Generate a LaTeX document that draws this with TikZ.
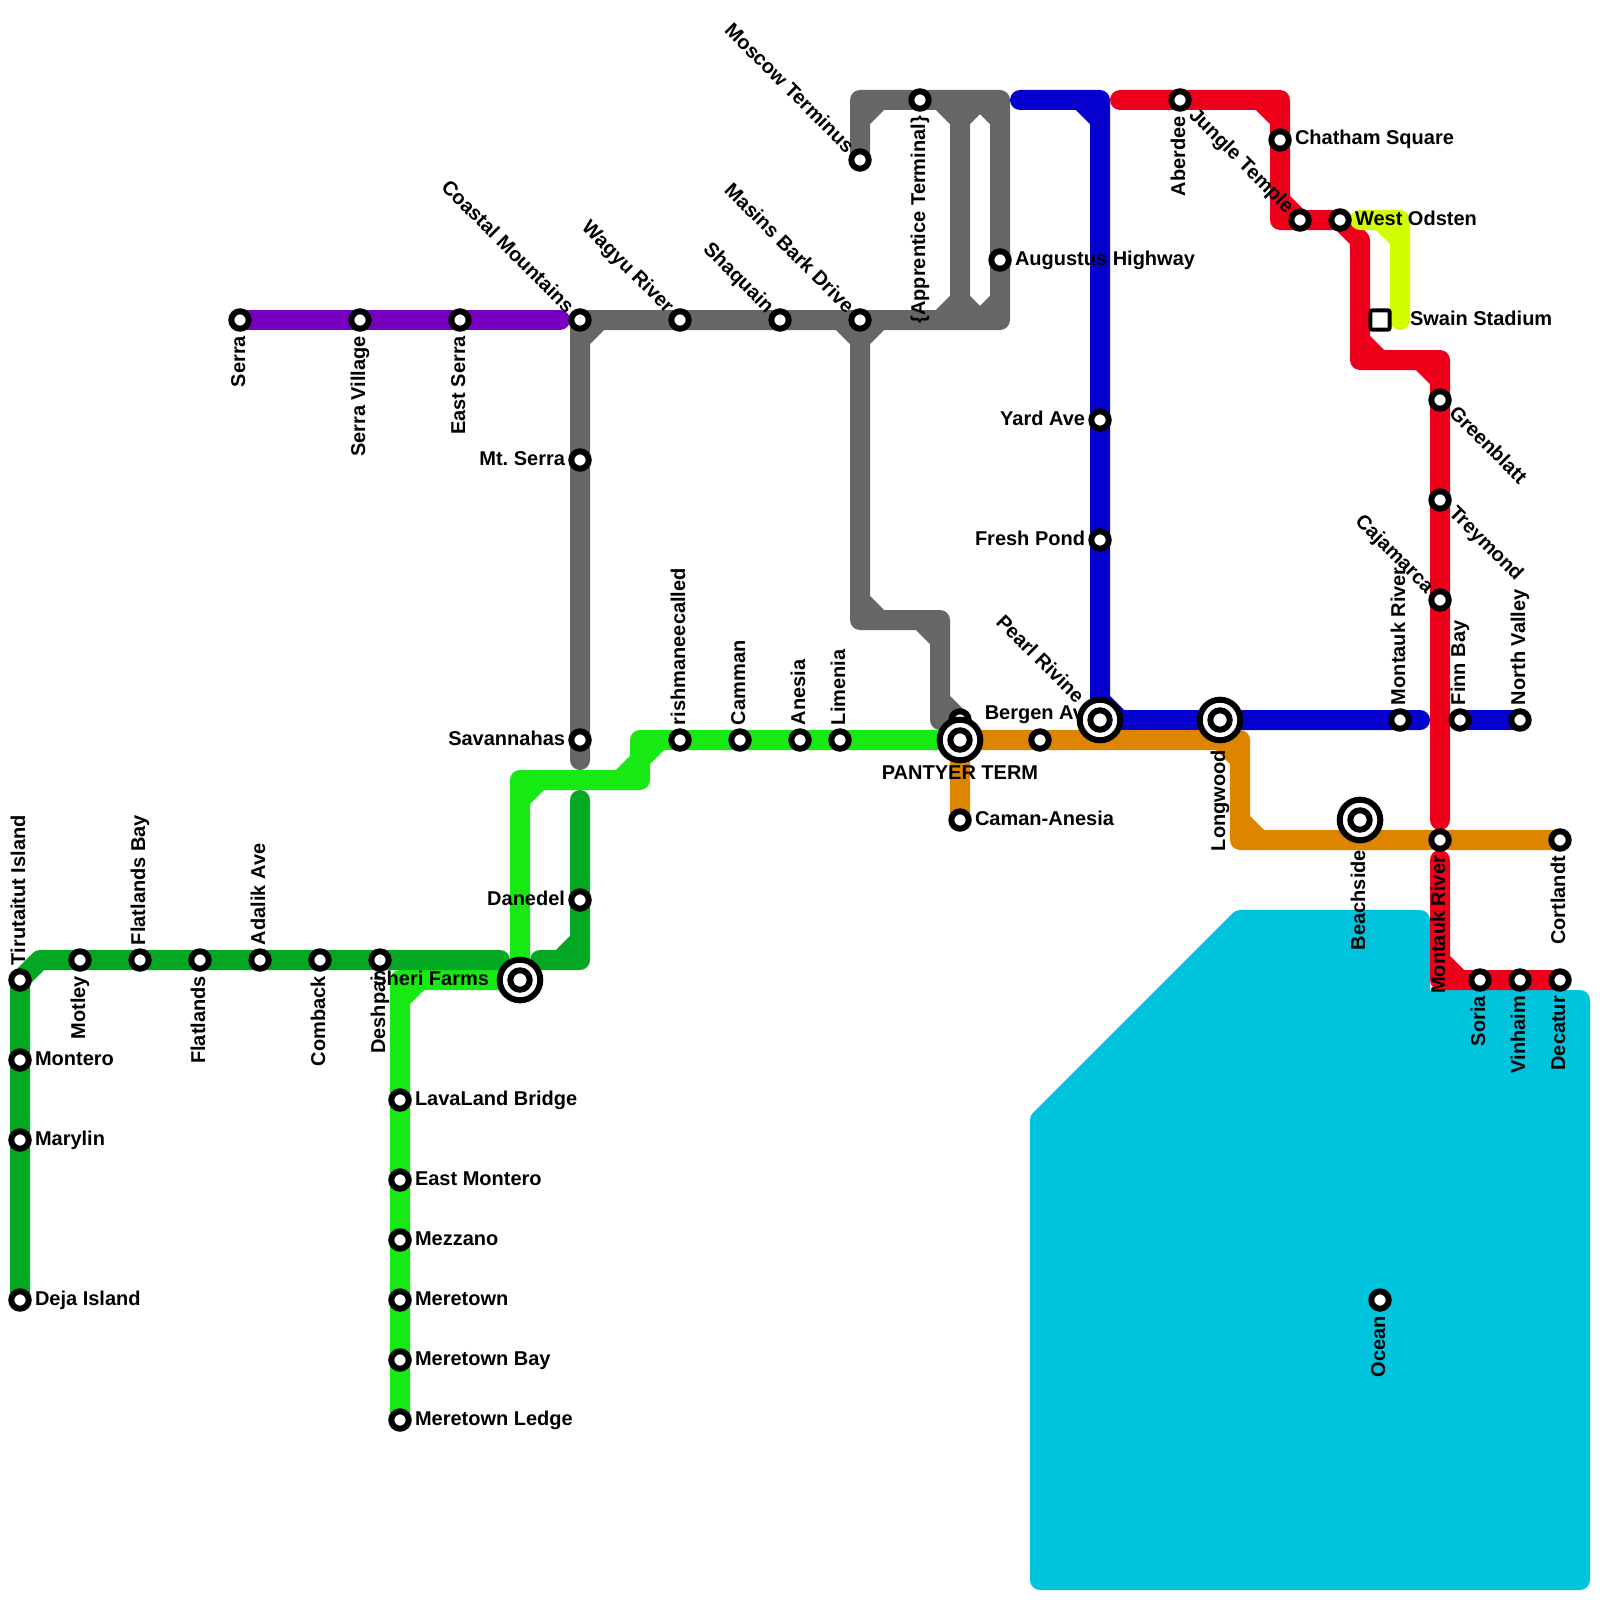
\documentclass[tikz,border=0pt]{standalone}
\usepackage{fontspec}
\setmainfont{Liberation Sans}
\frenchspacing
\usetikzlibrary{positioning}
\pgfdeclarelayer{track}
\pgfdeclarelayer{tag}
\pgfsetlayers{track,tag,main}
\definecolor{seablue}{RGB}{0,196,222}
\definecolor{tubepurple}{RGB}{122,0,191}
\definecolor{tubegray}{RGB}{102,102,102}
\definecolor{tubeblue}{RGB}{5,0,205}
\definecolor{tubered}{RGB}{238,0,26}
\definecolor{tubeorange}{RGB}{222,133,0}
\definecolor{tubegreen}{RGB}{23,234,18}
\definecolor{tubedark}{RGB}{3,168,35}
\definecolor{tubelime}{RGB}{210,255,0}
\tikzset{
	tubeline/.style={line width=20pt,line cap=round,line join=round},
	stn/.style={circle,draw=black,fill=white,line width=6pt,minimum size=17.4pt,inner sep=0pt,outer sep=0pt},
	hubring/.style={circle,draw=black,fill=white,line width=6pt,minimum size=40.6pt,inner sep=0pt,outer sep=0pt},
	hubcore/.style={stn,minimum size=19.4pt},
	stnsq/.style={rectangle,rounded corners=2pt,draw=black,fill=white,line width=4pt,minimum size=19.4pt,inner sep=0pt,outer sep=0pt},
	lab/.style={font=\fontsize{20}{24}\selectfont\bfseries,inner sep=0pt,outer sep=0pt},
	labr/.style={lab,anchor=base west,xshift=15pt,yshift=-5pt},
	labl/.style={lab,anchor=base east,xshift=-15pt,yshift=-5pt},
	labup/.style={lab,anchor=base west,xshift=5pt,yshift=15pt,rotate=90},
	labdn/.style={lab,anchor=base east,xshift=5pt,yshift=-16pt,rotate=90},
	labdnhub/.style={lab,anchor=base east,xshift=5pt,yshift=-30pt,rotate=90},
	labnw/.style={lab,anchor=base east,xshift=-14pt,yshift=6pt,rotate=-45},
	labnwhub/.style={lab,anchor=base east,xshift=-24pt,yshift=16pt,rotate=-45},
	labse/.style={lab,anchor=base west,xshift=8pt,yshift=-14pt,rotate=-45}
}
\newcommand{\stn}[2]{\node[stn] (#1) at #2 {};}
\newcommand{\hub}[2]{\node[hubring] (#1) at #2 {};\node[hubcore] (#1 c) at (#1.center) {};}
\newcommand{\lab}[3]{\node[#1] (#2 l) at (#2.center) {#3};}
\newcommand{\tube}[2]{\draw[tubeline,draw=#1] #2;}

\begin{document}
\begin{tikzpicture}[x=1pt,y=-1pt]
	\useasboundingbox (0,0) rectangle (1600,1600);
	% stations
	\stn{serra}{(240,320)} \stn{serravillage}{(360,320)} \stn{eastserra}{(460,320)}
	\stn{coastal}{(580,320)} \stn{wagyu}{(680,320)} \stn{shaquain}{(780,320)} \stn{masins}{(860,320)}
	\stn{mtserra}{(580,460)} \stn{savannahas}{(580,740)}
	\stn{moscow}{(860,160)} \stn{apprentice}{(920,100)} \stn{augustus}{(1000,260)}
	\stn{tirutaitut}{(20,980)} \stn{montero}{(20,1060)} \stn{marylin}{(20,1140)} \stn{deja}{(20,1300)}
	\stn{motley}{(80,960)} \stn{flatlandsbay}{(140,960)} \stn{flatlands}{(200,960)} \stn{adalik}{(260,960)}
	\stn{comback}{(320,960)} \stn{deshpai}{(380,960)} \stn{danedel}{(580,900)}
	\stn{lavaland}{(400,1100)} \stn{eastmontero}{(400,1180)} \stn{mezzano}{(400,1240)}
	\stn{meretown}{(400,1300)} \stn{meretownbay}{(400,1360)} \stn{meretownledge}{(400,1420)}
	\stn{irish}{(680,740)} \stn{camman}{(740,740)} \stn{anesia}{(800,740)} \stn{limenia}{(840,740)}
	\stn{behind}{(960,720)} \stn{bergen}{(1040,740)} \stn{caman}{(960,820)}
	\stn{yard}{(1100,420)} \stn{fresh}{(1100,540)}
	\stn{aberdee}{(1180,100)} \stn{chatham}{(1280,140)} \stn{jungle}{(1300,220)} \stn{odsten}{(1340,220)}
	\stn{greenblatt}{(1440,400)} \stn{treymond}{(1440,500)} \stn{cajamarca}{(1440,600)}
	\stn{montaukup}{(1400,720)} \stn{finn}{(1460,720)} \stn{north}{(1520,720)}
	\stn{montauk}{(1440,840)} \stn{cortlandt}{(1560,840)}
	\stn{soria}{(1480,980)} \stn{vinhaim}{(1520,980)} \stn{decatur}{(1560,980)} \stn{ocean}{(1380,1300)}
	\node[stnsq] (swain) at (1380,320) {};
	\hub{sheri}{(520,980)} \hub{pantyer}{(960,740)} \hub{pearl}{(1100,720)}
	\hub{longwood}{(1220,720)} \hub{beachside}{(1360,820)}
	% labels
	\begin{pgfonlayer}{tag}
		\lab{labdn}{serra}{Serra} \lab{labdn}{serravillage}{Serra Village} \lab{labdn}{eastserra}{East Serra}
		\lab{labnw}{coastal}{Coastal Mountains} \lab{labnw}{wagyu}{Wagyu River} \lab{labnw}{shaquain}{Shaquain}
		\lab{labnw}{masins}{Masins Bark Drive} \lab{labnw}{moscow}{Moscow Terminus}
		\lab{labl}{mtserra}{Mt. Serra} \lab{labl}{savannahas}{Savannahas} \lab{labl}{danedel}{Danedel}
		\lab{labdn}{apprentice}{\{Apprentice Terminal\}} \lab{labr}{augustus}{Augustus Highway}
		\lab{labup}{tirutaitut}{Tirutaitut Island} \lab{labr}{montero}{Montero} \lab{labr}{marylin}{Marylin} \lab{labr}{deja}{Deja Island}
		\lab{labdn}{motley}{Motley} \lab{labup}{flatlandsbay}{Flatlands Bay} \lab{labdn}{flatlands}{Flatlands}
		\lab{labup}{adalik}{Adalik Ave} \lab{labdn}{comback}{Comback} \lab{labdn}{deshpai}{Deshpai}
		\lab{labr}{lavaland}{LavaLand Bridge} \lab{labr}{eastmontero}{East Montero} \lab{labr}{mezzano}{Mezzano}
		\lab{labr}{meretown}{Meretown} \lab{labr}{meretownbay}{Meretown Bay} \lab{labr}{meretownledge}{Meretown Ledge}
		\lab{labup}{irish}{rishmaneecalled} \lab{labup}{camman}{Camman} \lab{labup}{anesia}{Anesia} \lab{labup}{limenia}{Limenia}
		\lab{labr}{caman}{Caman-Anesia} \lab{labl}{yard}{Yard Ave} \lab{labl}{fresh}{Fresh Pond}
		\lab{labdn}{aberdee}{Aberdee} \lab{labr}{chatham}{Chatham Square} \lab{labnw}{jungle}{Jungle Temple} \lab{labr}{odsten}{West Odsten}
		\lab{labse}{greenblatt}{Greenblatt} \lab{labse}{treymond}{Treymond} \lab{labnw}{cajamarca}{Cajamarca}
		\lab{labup}{montaukup}{Montauk River} \lab{labup}{finn}{Finn Bay} \lab{labup}{north}{North Valley}
		\lab{labdn}{montauk}{Montauk River} \lab{labdn}{cortlandt}{Cortlandt}
		\lab{labdn}{soria}{Soria} \lab{labdn}{vinhaim}{Vinhaim} \lab{labdn}{decatur}{Decatur} \lab{labdn}{ocean}{Ocean}
		\lab{labr,xshift=15pt}{swain}{Swain Stadium}
		\lab{labl,xshift=-16pt}{sheri}{Sheri Farms}
		\lab{lab,anchor=base,yshift=21pt}{bergen}{Bergen Ave}
		\lab{lab,anchor=base,yshift=-39pt}{pantyer}{PANTYER TERM}
		\lab{labnwhub}{pearl}{Pearl Rivine}
		\lab{labdnhub}{longwood}{Longwood}
		\lab{labdnhub}{beachside}{Beachside}
	\end{pgfonlayer}
	% lines
	\begin{pgfonlayer}{track}
		\draw[line width=20pt,line join=round,draw=seablue,fill=seablue] (1240,920) -- (1420,920) -- (1420,1000) -- (1580,1000) -- (1580,1580) -- (1040,1580) -- (1040,1120) -- cycle;
		\tube{tubepurple}{(serra.center) -- (560,320)}
		\tube{tubegray}{(savannahas.center) ++(0,20) -- (coastal.center) -- (1000,320) -- (1000,100) -- (860,100) -- (moscow.center)
			(580,340) -- (600,320) (840,320) -- (860,340) -- (880,320)
			(860,120) -- (880,100) (940,100) -- (960,120) -- (980,100) -- (1000,120)
			(940,320) -- (960,300) -- (980,320) -- (1000,300)
			(960,100) -- (960,320)}
		\tube{tubegray}{(masins.center) -- (860,620) -- (940,620) -- (940,720) -- (behind.center)
			(860,600) -- (880,620) (920,620) -- (940,640) (940,700) -- (behind.center)}
		\tube{tubeblue}{(1020,100) -- (1100,100) -- (pearl.center) -- (1420,720) (1080,100) -- (1100,120) (1100,700) -- (1120,720)}
		\tube{tubeblue}{(finn.center) -- (north.center)}
		\tube{tubeorange}{(caman.center) -- (pantyer.center) -- (1240,740) -- (1240,840) -- (cortlandt.center) (1220,740) -- (1240,760) (1240,820) -- (1260,840)}
		\tube{tubegreen}{(pantyer.center) -- (640,740) -- (640,780) -- (520,780) -- (sheri.center) -- (400,980) -- (meretownledge.center)
			(660,740) -- (640,760) -- (620,780) (520,800) -- (540,780) (400,1000) -- (420,980)}
		\tube{tubedark}{(deja.center) -- (tirutaitut.center) -- (40,960) -- (500,960)}
		\tube{tubedark}{(540,960) -- (580,960) -- (580,800) (560,960) -- (580,940)}
		\tube{tubered}{(1120,100) -- (1280,100) -- (1280,220) -- (odsten.center) -- (1360,240) -- (1360,360) -- (1440,360) -- (1440,820)
			(1260,100) -- (1280,120) (1280,200) -- (1300,220) (1360,340) -- (1380,360) (1420,360) -- (1440,380)}
		\tube{tubered}{(1440,860) -- (1440,980) -- (decatur.center) (1440,960) -- (1460,980)}
		\tube{tubelime}{(1360,220) -- (1400,220) -- (1400,320) (1380,220) -- (1400,240)}
	\end{pgfonlayer}
\end{tikzpicture}
\end{document}
